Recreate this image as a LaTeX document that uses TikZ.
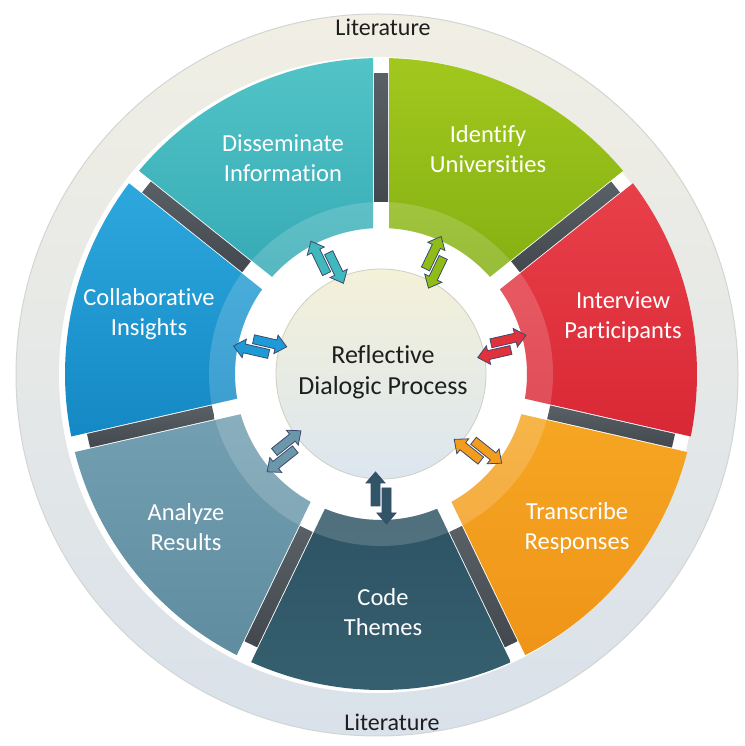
\documentclass[tikz,border=0pt]{standalone}
\usepackage{fontspec}
\setmainfont{Carlito}[Ligatures={NoCommon}]
\usetikzlibrary{calc}
\definecolor{ringT}{HTML}{F1EFE4}
\definecolor{ringM}{HTML}{EAEDE0}
\definecolor{ringB}{HTML}{D9E1EA}
\definecolor{ringE}{HTML}{D2D6D2}
\definecolor{ideT}{HTML}{A2C81E}\definecolor{ideB}{HTML}{84B012}\definecolor{ideM}{HTML}{8FBC16}
\definecolor{intT}{HTML}{E8404A}\definecolor{intB}{HTML}{D92835}\definecolor{intM}{HTML}{E0313C}
\definecolor{traT}{HTML}{F6A623}\definecolor{traB}{HTML}{EF9418}\definecolor{traM}{HTML}{F29D1E}
\definecolor{codT}{HTML}{2D5364}\definecolor{codB}{HTML}{36606F}\definecolor{codM}{HTML}{2F5567}
\definecolor{anaT}{HTML}{729FB1}\definecolor{anaB}{HTML}{5F8C9F}\definecolor{anaM}{HTML}{6A98AA}
\definecolor{colT}{HTML}{2DA8DD}\definecolor{colB}{HTML}{1488C4}\definecolor{colM}{HTML}{1E9BD6}
\definecolor{disT}{HTML}{52C4C7}\definecolor{disB}{HTML}{36AAB5}\definecolor{disM}{HTML}{41B7BE}
\definecolor{barT}{HTML}{5A6166}\definecolor{barB}{HTML}{42484D}
\definecolor{arrline}{HTML}{3C4A6E}
\definecolor{cirT}{HTML}{F4F1D9}\definecolor{cirB}{HTML}{DCE6EF}\definecolor{cirE}{HTML}{CFCFC4}
\definecolor{txt}{HTML}{1E1E1E}
\tikzset{
  seglabel/.style={text=white, align=center, font=\fontsize{24.5}{30}\selectfont},
  littext/.style={text=txt, font=\fontsize{24}{29}\selectfont},
  centertext/.style={text=txt, align=center, font=\fontsize{26}{31}\selectfont},
  arrowshape/.style={draw=arrline, line width=0.8pt, line join=miter},
}
\begin{document}
\begin{tikzpicture}[x=1pt,y=1pt]
\useasboundingbox (0,0) rectangle (744,746);
\fill[white] (0,0) rectangle (744,746);
% outer Literature ring
\coordinate (R) at (377,371);
\shade[top color=ringT, middle color=ringM, bottom color=ringB] (R) circle[radius=361];
\draw[ringE, line width=1pt] (R) circle[radius=361];
\fill[white] (R) circle[radius=318];
\coordinate (C) at (381,372);
% segments
\begin{scope}[shift={(C)}]
\foreach \k/\ct/\cb in {0/ideT/ideB,1/intT/intB,2/traT/traB,3/codT/codB,4/anaT/anaB,5/colT/colB,6/disT/disB}{
  \pgfmathsetmacro\aA{90-(\k+1)*360/7}
  \pgfmathsetmacro\aB{90-\k*360/7}
  \pgfmathsetmacro\aAo{\aA+1.45}\pgfmathsetmacro\aBo{\aB-1.45}
  \pgfmathsetmacro\aAi{\aA+3.14}\pgfmathsetmacro\aBi{\aB-3.14}
  \pgfmathsetmacro\aAj{\aA+2.67}\pgfmathsetmacro\aBj{\aB-2.67}
  \shade[top color=\ct, bottom color=\cb] (\aAo:316) arc[start angle=\aAo, end angle=\aBo, radius=316]
     -- (\aBi:146) arc[start angle=\aBi, end angle=\aAi, radius=146] -- cycle;
  \fill[white, opacity=0.17] (\aAi:146) arc[start angle=\aAi, end angle=\aBi, radius=146]
     -- (\aBj:172) arc[start angle=\aBj, end angle=\aAj, radius=172] -- cycle;
  \shade[rotate=\aB, top color=barT, bottom color=barB] (172,-7) rectangle (300,7);
}
\end{scope}
% center circle
\node[circle, minimum size=210pt, inner sep=0pt, draw=cirE, line width=0.8pt,
      top color=cirT, bottom color=cirB] (hub) at (C) {};
\node[centertext] (hubtext) at (383,374) {Reflective\\Dialogic Process};
% double arrows
\foreach \m/\c in {64.29/ideM,12.86/intM,-38.57/traM,-90/codM,-141.43/anaM,167.14/colM,115.71/disM}{
  \begin{scope}[shift={(C)}, rotate=\m]
    \filldraw[arrowshape, fill=\c, shift={(98,-5.5)}] (0,0) -- (11,9.5) -- (11,4.5) -- (34,4.5) -- (34,-4.5) -- (11,-4.5) -- (11,-9.5) -- cycle;
    \filldraw[arrowshape, fill=\c, shift={(150,5.5)}] (0,0) -- (-11,9.5) -- (-11,4.5) -- (-36,4.5) -- (-36,-4.5) -- (-11,-4.5) -- (-11,-9.5) -- cycle;
  \end{scope}
}
% labels
\node[seglabel] (dis) at (283,588) {Disseminate\\Information};
\node[seglabel] (ide) at (488,597) {Identify\\Universities};
\node[seglabel] (int) at (623,429) {Interview\\Participants};
\node[seglabel] (tra) at (577,218) {Transcribe\\Responses};
\node[seglabel] (cod) at (383,134) {Code\\Themes};
\node[seglabel] (ana) at (186,219) {Analyze\\Results};
\node[seglabel] (col) at (149,432) {Collaborative\\Insights};
\node[littext] (littop) at (383,719) {Literature};
\node[littext] (litbot) at (392,24) {Literature};
\end{tikzpicture}
\end{document}
